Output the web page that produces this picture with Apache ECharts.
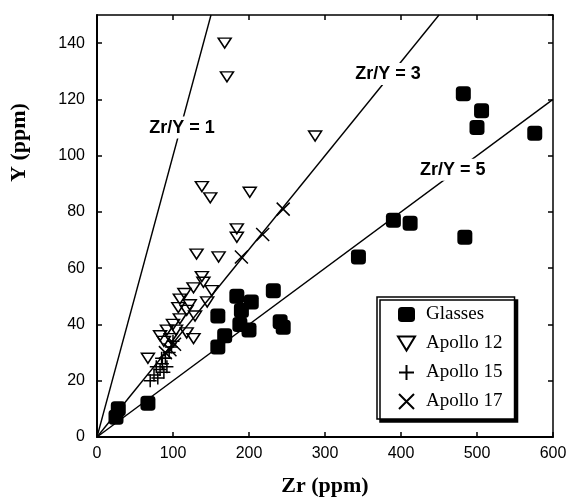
<!DOCTYPE html>
<html>
<head>
<meta charset="utf-8">
<script src="https://cdn.jsdelivr.net/npm/echarts@6/dist/echarts.min.js"></script>
<style>
  html, body { margin: 0; padding: 0; background: #fff; }
  #chart { width: 570px; height: 502px; }
</style>
</head>
<body>
<div id="chart"></div>
<script>
// data: [Zr, Y] in ppm
const glasses = [[25,7],[28,10],[67,12],[159,32],[168,36],[159,43],[184,50],[190,45],[203,48],
  [188,40],[200,38],[232,52],[241,41],[245,39],[344,64],[390,77],[412,76],[484,71],
  [482,122],[506,116],[500,110],[576,108]];
const apollo12 = [[67,28],[83,36],[92,38],[88,34],[100,40],[109,42],[109,49],[118,45],[118,37],
  [127,35],[129,43],[127,53],[131,65],[138,57],[140,55],[151,52],[145,48],[115,51],[122,47],
  [107,46],[104,38],[97,35],[160,64],[138,89],[149,85],[201,87],[184,74],[184,71],
  [168,140],[171,128],[287,107]];
const apollo15 = [[70,20],[75,22],[80,21],[83,24],[86,26],[88,23],[90,28],[92,25],[95,30],
  [98,32],[85,28],[78,25],[100,34]];
const apollo17 = [[245,81],[218,72],[190,64],[90,30],[96,31],[102,33]];

// Zr/Y reference lines and where their labels sit
const ratios = [1, 3, 5];
const ratioLabelPos = [[112,110],[383,129],[468,95]];
const xMax = 600, yMax = 150;
const xTicks = [0, 100, 200, 300, 400, 500, 600];
const yTicks = [0, 20, 40, 60, 80, 100, 120, 140];

const chart = echarts.init(document.getElementById('chart'));

// line from origin to where it leaves the plot box
const ratioLine = r => {
  const end = Math.min(xMax, yMax * r);
  return [[0, 0], [end, end / r]];
};

const blackHollow = { color: 'rgba(0,0,0,0)', borderColor: '#000', borderWidth: 1.5, opacity: 1 };
const tickFont = { fontFamily: 'Liberation Sans, Arial', fontSize: 16, color: '#000' };

const series = [];
ratios.forEach(r => {
  series.push({
    type: 'line', data: ratioLine(r), symbol: 'none', silent: true, z: 1,
    lineStyle: { color: '#000', width: 1.4 }
  });
});

// ratio labels with a white box that cuts the line
series.push({
  type: 'custom', silent: true, z: 10,
  data: ratioLabelPos.map((p, i) => [p[0], p[1], ratios[i]]),
  renderItem: (params, api) => {
    const p = api.coord([api.value(0), api.value(1)]);
    return {
      type: 'text', x: p[0], y: p[1], z2: 10,
      style: {
        text: 'Zr/Y = ' + api.value(2), align: 'center', verticalAlign: 'middle',
        fill: '#000', font: 'bold 18px "Liberation Sans", Arial',
        backgroundColor: '#fff', padding: [2, 3]
      }
    };
  }
});

series.push(
  { name: 'Glasses', type: 'scatter', data: glasses, symbol: 'roundRect', symbolSize: 15, z: 4,
    itemStyle: { color: '#000', opacity: 1 } },
  { name: 'Apollo 12', type: 'scatter', data: apollo12, symbol: 'path://M0,0L12,0L6,10Z',
    symbolSize: [13, 10], z: 3, itemStyle: blackHollow },
  { name: 'Apollo 15', type: 'scatter', data: apollo15, symbol: 'path://M5,0L5,10M0,5L10,5',
    symbolSize: 13, z: 3, itemStyle: blackHollow },
  { name: 'Apollo 17', type: 'scatter', data: apollo17, symbol: 'path://M0,0L10,10M10,0L0,10',
    symbolSize: 13, z: 3, itemStyle: blackHollow }
);

const option = {
  backgroundColor: '#fff',
  animation: false,
  grid: { left: 97, right: 17, top: 15, bottom: 64 },
  legend: {
    data: ['Glasses', 'Apollo 12', 'Apollo 15', 'Apollo 17'],
    orient: 'vertical', left: 377, top: 297,
    padding: [8, 12, 8, 20], itemGap: 10, itemWidth: 17, itemHeight: 15,
    backgroundColor: '#fff', borderColor: '#000', borderWidth: 1.5, borderRadius: 0,
    shadowColor: '#000', shadowBlur: 0, shadowOffsetX: 3, shadowOffsetY: 3,
    textStyle: { fontFamily: 'Liberation Serif, Times New Roman', fontSize: 19, color: '#000', padding: [0, 0, 0, 6] },
    selectedMode: false
  },
  xAxis: [{
    type: 'value', min: 0, max: xMax, interval: 100,
    name: 'Zr (ppm)', nameLocation: 'middle', nameGap: 38,
    nameTextStyle: { fontFamily: 'Liberation Serif, Times New Roman', fontWeight: 'bold', fontSize: 22, color: '#000' },
    axisLine: { onZero: false, lineStyle: { color: '#000', width: 2 } },
    axisTick: { inside: true, length: 5, lineStyle: { color: '#000', width: 1.5 } },
    axisLabel: Object.assign({ margin: 9, formatter: v => xTicks.includes(v) ? v : '' }, tickFont),
    splitLine: { show: false }
  }, {
    type: 'value', position: 'top', min: 0, max: xMax, interval: 100,
    axisLine: { onZero: false, lineStyle: { color: '#000', width: 1.5 } },
    axisTick: { inside: true, length: 5, lineStyle: { color: '#000', width: 1.5 } },
    axisLabel: { show: false }, splitLine: { show: false }
  }],
  yAxis: [{
    type: 'value', min: 0, max: yMax, interval: 20,
    axisLine: { onZero: false, lineStyle: { color: '#000', width: 2 } },
    axisTick: { inside: true, length: 5, lineStyle: { color: '#000', width: 1.5 } },
    axisLabel: Object.assign({ margin: 12, showMaxLabel: false, formatter: v => yTicks.includes(v) ? v : '' }, tickFont),
    splitLine: { show: false }
  }, {
    type: 'value', position: 'right', min: 0, max: yMax, interval: 20,
    axisLine: { onZero: false, lineStyle: { color: '#000', width: 1.5 } },
    axisTick: { inside: true, length: 5, lineStyle: { color: '#000', width: 1.5 } },
    axisLabel: { show: false }, splitLine: { show: false }
  }],
  graphic: [{
    type: 'text', x: 8, y: 182, rotation: Math.PI / 2,
    style: { text: 'Y (ppm)', fill: '#000', font: 'bold 22px "Liberation Serif", "Times New Roman"' }
  }],
  series: series
};

chart.setOption(option);
</script>
</body>
</html>
